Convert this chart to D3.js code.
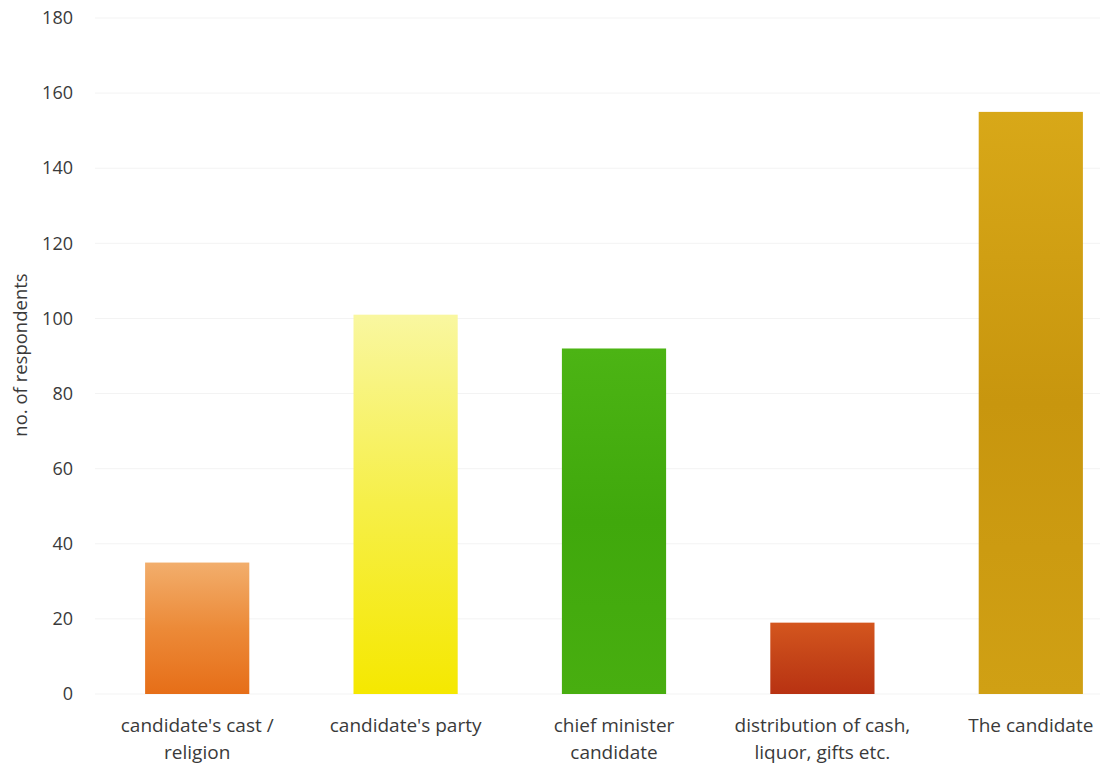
<!DOCTYPE html>
<html><head><meta charset="utf-8">
<script src="https://cdn.jsdelivr.net/npm/d3@7"></script>
<style>body{margin:0;background:#fff}svg{display:block}text{font-family:"Open Sans",sans-serif}</style>
</head><body>
<svg id="c" width="1100" height="765"></svg>
<script>
const categories = ["candidate's cast / religion", "candidate's party", "chief minister candidate", "distribution of cash, liquor, gifts etc.", "The candidate"];
const labelLines = [["candidate's cast /", "religion"], ["candidate's party"], ["chief minister", "candidate"], ["distribution of cash,", "liquor, gifts etc."], ["The candidate"]];
const values = [35, 101, 92, 19, 155];
const yTicks = [0, 20, 40, 60, 80, 100, 120, 140, 160, 180];
const yTitle = "no. of respondents";

const barGradients = [
  ["#f2ae6c", "#ec8a38", "#e66e18"],
  ["#f9f7a0", "#f6ef48", "#f5e800"],
  ["#4cb414", "#40a80c", "#48ae10"],
  ["#d4561e", "#c44418", "#b83212"],
  ["#d8a818", "#c8960e", "#d0a014"]
];

const svg = d3.select("#c");
const x = d3.scaleBand().domain(categories).range([93, 1135]).paddingInner(0.5).paddingOuter(0.25);
const y = d3.scaleLinear().domain([0, 180]).range([694, 18]);

const defs = svg.append("defs");
barGradients.forEach((g, i) => {
  const lg = defs.append("linearGradient").attr("id", "g" + i).attr("x1", 0).attr("y1", 0).attr("x2", 0).attr("y2", 1);
  lg.append("stop").attr("offset", "0%").attr("stop-color", g[0]);
  lg.append("stop").attr("offset", "50%").attr("stop-color", g[1]);
  lg.append("stop").attr("offset", "100%").attr("stop-color", g[2]);
});

// gridlines
svg.append("g").selectAll("line").data(yTicks).join("line")
  .attr("x1", 95).attr("x2", 1100)
  .attr("y1", d => y(d)).attr("y2", d => y(d))
  .attr("stroke", "#f3f3f3").attr("stroke-width", 1);

// y axis labels
const yAxis = svg.append("g").attr("transform", "translate(73,0)")
  .call(d3.axisLeft(y).tickValues(yTicks).tickSize(0).tickPadding(0));
yAxis.select(".domain").remove();
yAxis.selectAll("text").attr("font-size", 18).attr("fill", "#3a3a3a").attr("font-family", "'Open Sans', sans-serif");

svg.append("text").attr("transform", "translate(21,355) rotate(-90)")
  .attr("text-anchor", "middle").attr("dy", "0.35em").attr("font-size", 18.5).attr("fill", "#3a3a3a").text(yTitle);

// bars
svg.append("g").selectAll("rect").data(values).join("rect")
  .attr("x", (d, i) => x(categories[i]))
  .attr("width", x.bandwidth())
  .attr("y", d => y(d))
  .attr("height", d => y(0) - y(d))
  .attr("fill", (d, i) => `url(#g${i})`);

// x labels
const xl = svg.append("g");
categories.forEach((c, i) => {
  const t = xl.append("text").attr("x", x(c) + x.bandwidth() / 2).attr("y", 732)
    .attr("text-anchor", "middle").attr("font-size", 19).attr("fill", "#3a3a3a");
  labelLines[i].forEach((ln, j) => t.append("tspan").attr("x", x(c) + x.bandwidth() / 2).attr("dy", j ? 27 : 0).text(ln));
});
</script>
</body></html>
